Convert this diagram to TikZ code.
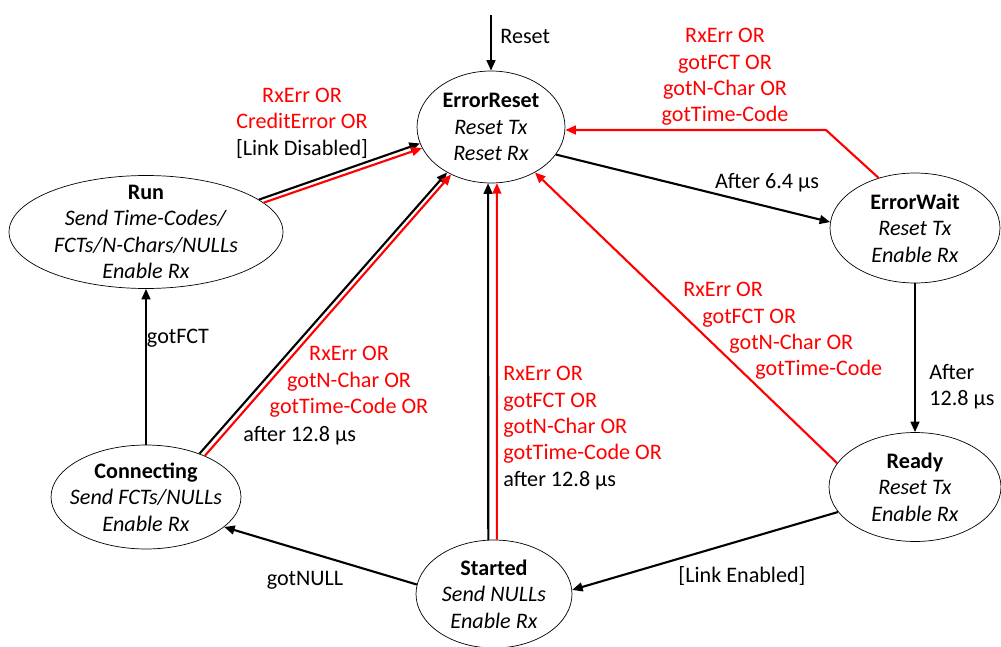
\documentclass[tikz,border=0pt]{standalone}
\usepackage{fontspec}
\setmainfont{Carlito}
\usetikzlibrary{shapes.geometric,arrows.meta}
\begin{document}
\begin{tikzpicture}[x=0.02cm,y=-0.02cm]
\tikzstyle{every node}+=[inner sep=0pt, font=\fontsize{12.6}{15}\selectfont]
\tikzstyle{state}=[draw, ellipse, thin, align=center, inner xsep=-0.2cm, inner ysep=-0.3cm]
\tikzstyle{trans}=[line width=1.2pt, -{Triangle[length=6pt,width=5pt]}]
\tikzstyle{errtrans}=[trans, red]
\tikzstyle{lbl}=[align=center]
\useasboundingbox (0,0) rectangle (1001,646);
% states
\node[state, minimum width=2.96cm, minimum height=2.24cm] (ER) at (491,127) {\textbf{ErrorReset}\\\textit{Reset Tx}\\\textit{Reset Rx}};
\node[state, minimum width=5.48cm, minimum height=2.26cm] (run) at (146,232) {\textbf{Run}\\\textit{Send Time-Codes/}\\\textit{FCTs/N-Chars/NULLs}\\\textit{Enable Rx}};
\node[state, minimum width=3.4cm, minimum height=2.2cm] (EW) at (915,228) {\textbf{ErrorWait}\\\textit{Reset Tx}\\\textit{Enable Rx}};
\node[state, minimum width=3.44cm, minimum height=2.18cm] (RD) at (915,487) {\textbf{Ready}\\\textit{Reset Tx}\\\textit{Enable Rx}};
\node[state, minimum width=3.8cm, minimum height=2.08cm] (CN) at (146,497) {\textbf{Connecting}\\\textit{Send FCTs/NULLs}\\\textit{Enable Rx}};
\node[state, minimum width=3.12cm, minimum height=2.16cm] (ST) at (494,594) {\textbf{Started}\\\textit{Send NULLs}\\\textit{Enable Rx}};
% reset
\coordinate (rst) at (491,15);
\draw[trans] (rst) -- (ER.north);
\node[anchor=west] (lreset) at (500,36) {Reset};
% ErrorReset <-> ErrorWait
\draw[trans] (ER.-23) -- (EW.176);
\node (lafter64) at (767,183) {After 6.4 µs};
\coordinate (ewbend) at (826,130);
\draw[errtrans] (EW.126) -- (ewbend) -- (ewbend -| ER.east);
\node[lbl, red] (lew) at (725,77) {RxErr OR\\gotFCT OR\\gotN-Char OR\\gotTime-Code};
% ErrorWait -> Ready
\draw[trans] (EW.south) -- (RD.north);
\node[align=left, anchor=west] (lafter128) at (929,387) {After\\12.8 µs};
% Ready
\draw[errtrans] (RD.163) -- (ER.-46);
\node[align=left, anchor=north west, red] (lrd) at (683,282) {RxErr OR\\\hspace*{0.38cm}gotFCT OR\\\hspace*{0.92cm}gotN-Char OR\\\hspace*{1.44cm}gotTime-Code};
\draw[trans] (RD.198) -- (ST.3);
\node (llinken) at (742,576) {[Link Enabled]};
% Started
\draw[trans] (ST.173) -- (CN.-21);
\node (lgotnull) at (305,580) {gotNULL};
\draw[trans] (ST.96) -- (ER.267);
\draw[errtrans] (ST.87) -- (ER.276);
\node[align=left, anchor=north west] (lst) at (503,366) {\textcolor{red}{RxErr OR}\\\textcolor{red}{gotFCT OR}\\\textcolor{red}{gotN-Char OR}\\\textcolor{red}{gotTime-Code OR}\\after 12.8 µs};
% Connecting
\draw[trans] (CN.north) -- (run.south);
\node (lgotfct) at (178,338) {gotFCT};
\draw[trans] (CN.39) -- (ER.226);
\draw[errtrans] (CN.35) -- (ER.230);
\node[lbl, red] (lcn) at (349,382) {RxErr OR\\gotN-Char OR\\gotTime-Code OR};
\node[anchor=west] (lcnafter) at (243,436) {after 12.8 µs};
% Run
\draw[trans] (run.16) -- (ER.193);
\draw[errtrans] (run.14) -- (ER.197);
\node[lbl] (lrun) at (302,123) {\textcolor{red}{RxErr OR}\\\textcolor{red}{CreditError OR}\\{[}Link Disabled{]}};
\end{tikzpicture}
\end{document}
